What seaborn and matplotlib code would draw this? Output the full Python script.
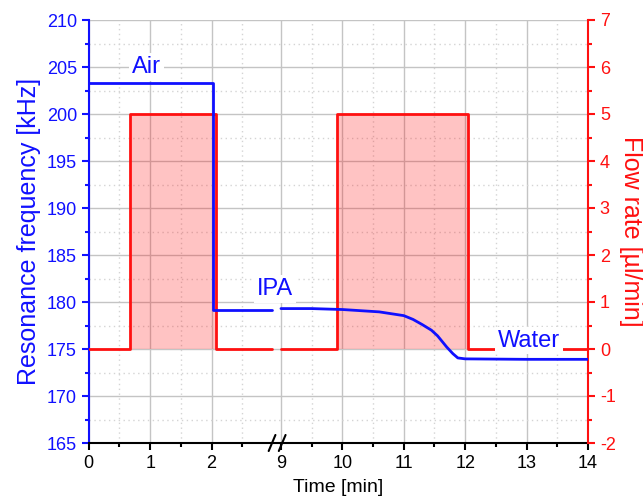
import numpy as np
import pandas as pd
import seaborn as sns
import matplotlib.pyplot as plt

flow_t_left = [0, 0.68, 0.68, 2.08, 2.08, 2.99]
flow_v_left = [0, 0, 5, 5, 0, 0]
flow_t_right = [9.0, 9.91, 9.91, 12.05, 12.05, 14.0]
flow_v_right = [0, 0, 5, 5, 0, 0]

freq_t_left = [0, 2.02, 2.02, 2.99]
freq_v_left = [203.3, 203.3, 179.1, 179.1]
freq_t_right = [9.0, 9.5, 10.0, 10.6, 11.0, 11.15, 11.3, 11.45, 11.55, 11.7, 11.8, 11.88, 12.0, 13.0, 14.0]
freq_v_right = [179.3, 179.3, 179.2, 178.95, 178.55, 178.15, 177.6, 177.0, 176.4, 175.2, 174.5, 174.05, 173.95, 173.9, 173.9]

x_ticks = [0, 1, 2, 9, 10, 11, 12, 13, 14]
x_minor = [0.5, 1.5, 2.5, 9.5, 10.5, 11.5, 12.5, 13.5]

# axis break: minutes 9.. are shifted left so 9 sits just after the break
GAP = 9.0 - 3.13
BREAK_L, BREAK_R = 2.985, 3.15


def to_axis(t):
    t = np.asarray(t, dtype=float)
    return np.where(t >= 5, t - GAP, t)


BLUE = '#1010ff'
RED = '#ff1010'

sns.set_theme(style='white')
plt.rcParams['font.family'] = ['Liberation Sans', 'DejaVu Sans']
plt.rcParams['axes.unicode_minus'] = False

fig, ax = plt.subplots(figsize=(6.43, 5.0), dpi=100)
fig.subplots_adjust(left=0.138, right=0.9145, bottom=0.114, top=0.96)
ax2 = ax.twinx()

# flow rate (right axis)
for tt, vv in [(flow_t_left, flow_v_left), (flow_t_right, flow_v_right)]:
    df = pd.DataFrame({'x': to_axis(tt), 'y': vv})
    ax2.fill_between(df.x, 0, df.y, color=RED, alpha=0.25, lw=0, zorder=1)
    sns.lineplot(data=df, x='x', y='y', ax=ax2, color=RED, lw=2.0,
                 estimator=None, sort=False, zorder=3)

# resonance frequency drawn on the right axis scale so it sits on top
def f2flow(f):
    return (np.asarray(f) - 175.0) / 5.0

for tt, vv in [(freq_t_left, freq_v_left), (freq_t_right, freq_v_right)]:
    df = pd.DataFrame({'x': to_axis(tt), 'y': f2flow(vv)})
    sns.lineplot(data=df, x='x', y='y', ax=ax2, color=BLUE, lw=2.0,
                 estimator=None, sort=False, zorder=4)

# axes limits
ax.set_xlim(0, to_axis(14))
ax.set_ylim(165, 210)
ax2.set_ylim(-2, 7)

# ticks
ax.set_xticks(to_axis(x_ticks))
ax.set_xticklabels([str(t) for t in x_ticks])
ax.set_xticks(to_axis(x_minor), minor=True)
ax.set_yticks(np.arange(165, 211, 5))
ax.set_yticks(np.arange(167.5, 210, 5), minor=True)
ax2.set_yticks(np.arange(-2, 8, 1))
ax2.set_yticks(np.arange(-1.5, 7, 1), minor=True)

ax.tick_params(axis='x', which='both', direction='out', bottom=True, colors='black', labelsize=13, width=1.5)
ax.tick_params(axis='x', which='major', length=5, pad=4)
ax.tick_params(axis='x', which='minor', length=3)
ax.tick_params(axis='y', which='both', direction='out', left=True, colors=BLUE, labelsize=13, width=1.5)
ax.tick_params(axis='y', which='major', length=5)
ax.tick_params(axis='y', which='minor', length=3)
ax2.tick_params(axis='y', which='both', direction='out', right=True, colors=RED, labelsize=13, width=1.5)
ax2.tick_params(axis='y', which='major', length=5)
ax2.tick_params(axis='y', which='minor', length=3)

# grid
ax.grid(True, which='major', color='#c4c4c4', lw=1.0, ls='-')
ax.grid(True, which='minor', color='#d4d4d4', lw=1.0, ls=(0, (1, 2.5)))
ax.set_axisbelow(True)

# spines
for a in (ax, ax2):
    a.spines['top'].set_visible(False)
    for s in a.spines.values():
        s.set_linewidth(1.5)
ax.spines['left'].set_color(BLUE)
ax2.spines['right'].set_color(RED)
ax.spines['bottom'].set_color('black')
ax2.spines['bottom'].set_visible(False)
ax2.spines['left'].set_visible(False)
ax.spines['right'].set_visible(False)

ax.set_xlabel('Time [min]', fontsize=14, color='black', labelpad=5)
ax.set_ylabel('Resonance frequency [kHz]', fontsize=18, color=BLUE, labelpad=4)
ax2.set_ylabel('Flow rate [µl/min]', fontsize=18, color=RED, rotation=270, labelpad=20)

# axis break marks
dx, dy = 0.055, 0.019
for xb in (BREAK_L, BREAK_R):
    ax.plot([xb - dx, xb + dx], [-dy, dy], color='black', lw=1.5,
            transform=ax.get_xaxis_transform(), clip_on=False, zorder=10)

# labels with white background
box = dict(boxstyle='square,pad=0.12', fc='white', ec='none')
ax2.text(0.94, f2flow(205.0), 'Air', color=BLUE, fontsize=17, ha='center', va='center', bbox=box, zorder=5)
ax2.text(3.03, f2flow(181.4), 'IPA', color=BLUE, fontsize=17, ha='center', va='center', bbox=box, zorder=5)
ax2.text(7.17, f2flow(175.9), 'Water', color=BLUE, fontsize=17, ha='center', va='center', bbox=box, zorder=5)

fig.savefig('out.png', dpi=100)
